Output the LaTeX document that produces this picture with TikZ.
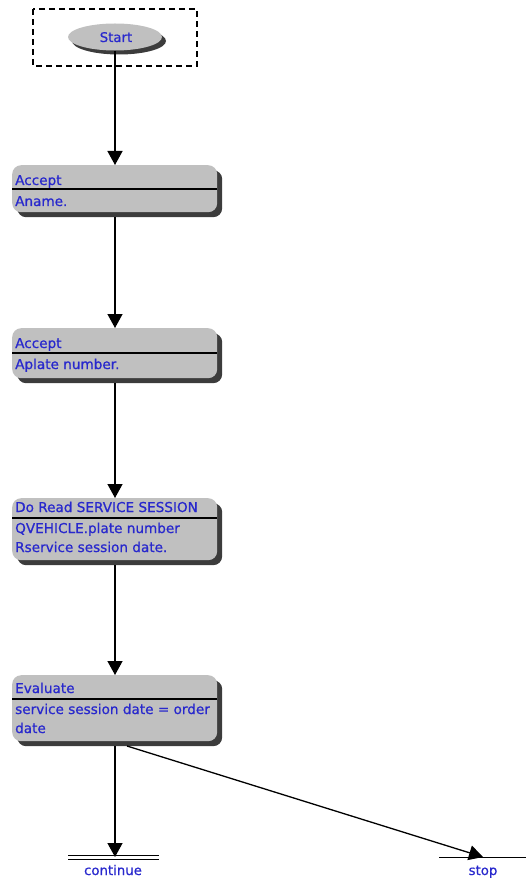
\documentclass[tikz,border=0pt]{standalone}
\usepackage{fontspec}
\setmainfont{DejaVu Sans}
\newfontfamily\lblfont{DejaVu Sans}[FakeBold=0.7]
\usetikzlibrary{arrows.meta,shapes.geometric,shadows}
\definecolor{txtblue}{RGB}{40,40,205}
\definecolor{boxgray}{RGB}{192,192,192}
\definecolor{shadowgray}{RGB}{60,60,60}
\tikzset{
  lbl/.style={inner sep=0pt, text=txtblue, font=\lblfont\fontsize{13.6}{16}\selectfont, anchor=base west},
  clbl/.style={inner sep=0pt, text=txtblue, font=\lblfont\fontsize{13.3}{16}\selectfont, anchor=base},
  procbox/.style={draw=none, fill=boxgray, rounded corners=9pt, minimum width=205pt, inner sep=0pt, anchor=north west,
    drop shadow={shadow xshift=5pt, shadow yshift=-5pt, fill=shadowgray, opacity=1}},
  conn/.style={line width=1.3pt, -{Triangle[length=14pt,width=15pt]}},
  divider/.style={line width=1.2pt, black}
}
\begin{document}
\begin{tikzpicture}[x=1pt,y=-1pt]
\useasboundingbox (0,0) rectangle (526,882);
% start
\draw[dashed, dash pattern=on 6pt off 4pt, line width=1.2pt] (33,9) rectangle (197,66);
\node[ellipse, fill=boxgray, minimum width=94pt, minimum height=27pt, inner sep=0pt,
  drop shadow={shadow xshift=4pt, shadow yshift=-4pt, fill=shadowgray, opacity=1}] (start) at (115,37) {};
\node[clbl] (starttxt) at (116,42) {Start};
% box 1
\node[procbox, minimum height=47pt] (b1) at (12,165) {};
\draw[divider] (12,189) -- (217,189);
\node[lbl] (b1t) at (15,185) {Accept};
\node[lbl] (b1b) at (15,206) {Aname.};
% box 2
\node[procbox, minimum height=50pt] (b2) at (12,328) {};
\draw[divider] (12,353) -- (217,353);
\node[lbl] (b2t) at (15,348) {Accept};
\node[lbl] (b2b) at (15,369) {Aplate number.};
% box 3
\node[procbox, minimum height=62pt] (b3) at (12,498) {};
\draw[divider] (12,518) -- (217,518);
\node[lbl] (b3t) at (15,512) {Do Read SERVICE SESSION};
\node[lbl] (b3b) at (15,533) {QVEHICLE.plate number};
\node[lbl] (b3c) at (15,552) {Rservice session date.};
% box 4
\node[procbox, minimum height=66pt] (b4) at (12,675) {};
\draw[divider] (12,699) -- (217,699);
\node[lbl] (b4t) at (15,693) {Evaluate};
\node[lbl] (b4b) at (15,714) {service session date = order};
\node[lbl] (b4c) at (15,733) {date};
% ends
\draw[line width=1pt] (68,855) -- (159,855);
\draw[line width=1pt] (68,859) -- (159,859);
\coordinate (cont) at (115,857);
\node[clbl] (conttxt) at (113,875) {continue};
\coordinate (stopL) at (439,857);
\coordinate (stopR) at (526,857);
\draw[line width=1pt] (stopL) -- (stopR);
\coordinate (stop) at (483,857);
\node[clbl] (stoptxt) at (483,875) {stop};
% connectors
\coordinate (b1in) at (115,165);
\coordinate (b1out) at (115,217);
\coordinate (b2in) at (115,328);
\coordinate (b2out) at (115,383);
\coordinate (b3in) at (115,498);
\coordinate (b3out) at (115,565);
\coordinate (b4in) at (115,675);
\coordinate (b4outA) at (115,746);
\coordinate (b4outB) at (127,746);
\draw[conn] (start.south -| b1in) -- (b1in);
\draw[conn] (b1out) -- (b2in);
\draw[conn] (b2out) -- (b3in);
\draw[conn] (b3out) -- (b4in);
\draw[conn] (b4outA) -- (cont);
\draw[conn] (b4outB) -- (stop);
\end{tikzpicture}
\end{document}
